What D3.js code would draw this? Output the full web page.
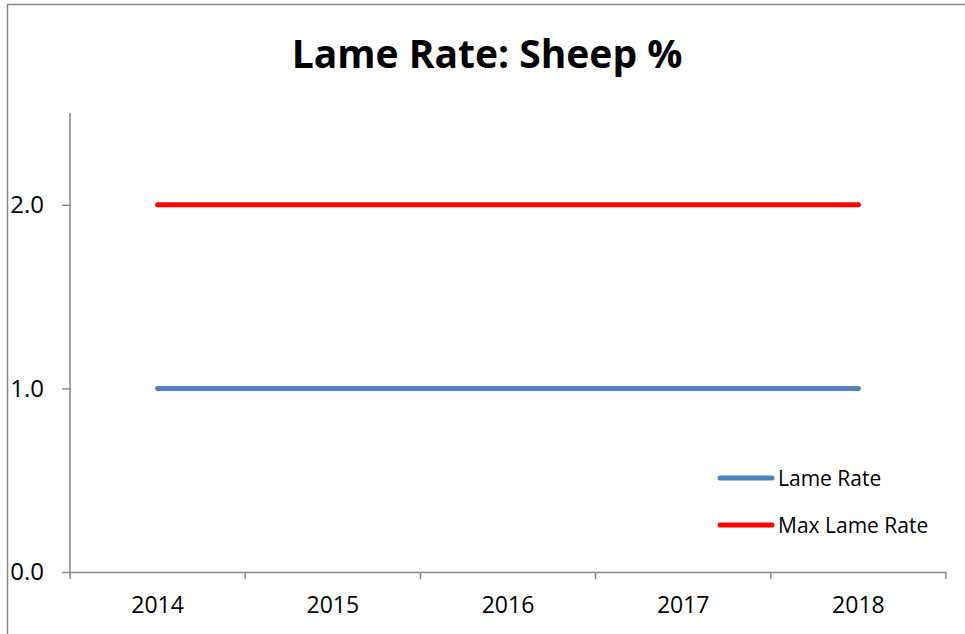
<!DOCTYPE html>
<html>
<head>
<meta charset="utf-8">
<script src="https://cdn.jsdelivr.net/npm/d3@7"></script>
<style>
  body { margin: 0; background: #fff; }
  text { font-family: "Open Sans", "Liberation Sans", sans-serif; }
</style>
</head>
<body>
<div class="canvas"></div>
<script>
// data
const years = ['2014', '2015', '2016', '2017', '2018'];
const lameRate = [1.0, 1.0, 1.0, 1.0, 1.0];
const maxLameRate = [2.0, 2.0, 2.0, 2.0, 2.0];
const yTicks = [0, 1, 2];
const seriesNames = ['Lame Rate', 'Max Lame Rate'];
const seriesColors = ['#4f81bd', '#ff0000'];

const width = 965, height = 634;
const margin = {top: 113, right: 19, bottom: 62, left: 70};
const graphWidth = width - margin.left - margin.right;
const graphHeight = height - margin.top - margin.bottom;

const svg = d3.select('.canvas')
    .append('svg')
    .attr('width', width)
    .attr('height', height);

// outer chart border
svg.append('rect')
    .attr('x', 7.5).attr('y', 4.5)
    .attr('width', width).attr('height', height)
    .attr('fill', 'none')
    .attr('stroke', '#868686')
    .attr('stroke-width', 1.5);

svg.append('text')
    .attr('x', 487).attr('y', 68)
    .attr('text-anchor', 'middle')
    .attr('font-size', 39)
    .attr('font-weight', 'bold')
    .text('Lame Rate: Sheep %');

const graph = svg.append('g')
    .attr('transform', `translate(${margin.left},${margin.top})`);

const xScale = d3.scaleBand().domain(years).range([0, graphWidth]);
const yScale = d3.scaleLinear().domain([0, 2.5]).range([graphHeight, 0]);

// x axis
const xAxisGroup = graph.append('g')
    .attr('transform', `translate(0,${graphHeight})`);
xAxisGroup.call(d3.axisBottom(xScale).tickSize(0).tickPadding(25));
xAxisGroup.select('.domain').attr('stroke', '#868686').attr('stroke-width', 1.5);
xAxisGroup.selectAll('text').attr('font-size', 23).attr('fill', '#000').attr('font-family', '"Open Sans", sans-serif');
// tick marks on category boundaries
xAxisGroup.selectAll('.bound')
    .data(d3.range(years.length + 1))
    .enter().append('line')
    .attr('x1', i => i * xScale.step())
    .attr('x2', i => i * xScale.step())
    .attr('y1', 0).attr('y2', 7)
    .attr('stroke', '#868686').attr('stroke-width', 1.5);

// y axis
const yAxisGroup = graph.append('g');
yAxisGroup.call(d3.axisLeft(yScale).tickValues(yTicks).tickFormat(d3.format('.1f')).tickSize(8).tickPadding(18));
yAxisGroup.select('.domain').attr('stroke', '#868686').attr('stroke-width', 1.5).attr('d', `M0,${graphHeight}V0`);
yAxisGroup.selectAll('.tick line').attr('stroke', '#868686').attr('stroke-width', 1.5);
yAxisGroup.selectAll('text').attr('font-size', 24).attr('fill', '#000').attr('font-family', '"Open Sans", sans-serif');

// lines
const line = d3.line()
    .x((d, i) => xScale(years[i]) + xScale.bandwidth() / 2)
    .y(d => yScale(d));

[lameRate, maxLameRate].forEach((s, k) => {
    graph.append('path')
        .datum(s)
        .attr('d', line)
        .attr('fill', 'none')
        .attr('stroke', seriesColors[k])
        .attr('stroke-width', 5)
        .attr('stroke-linecap', 'round');
});

// legend
const legend = svg.append('g').attr('transform', 'translate(720,478)');
seriesNames.forEach((name, i) => {
    const row = legend.append('g').attr('transform', `translate(0,${i * 47})`);
    row.append('line')
        .attr('x1', 0).attr('x2', 52)
        .attr('stroke', seriesColors[i])
        .attr('stroke-width', 5)
        .attr('stroke-linecap', 'round');
    row.append('text')
        .attr('x', 58).attr('y', 8)
        .attr('font-size', 21)
        .text(name);
});
</script>
</body>
</html>
